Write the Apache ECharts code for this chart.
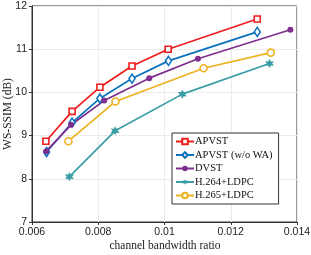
<!DOCTYPE html>
<html><head><meta charset="utf-8">
<script src="https://cdn.jsdelivr.net/npm/echarts@6/dist/echarts.min.js"></script>
<style>html,body{margin:0;padding:0;background:#fff}#c{width:311px;height:255px}</style>
</head><body><div id="c"></div>
<script>
const seriesNames = ['APVST', 'APVST (w/o WA)', 'DVST', 'H.264+LDPC', 'H.265+LDPC'];
const apvstX = [0.00642, 0.00721, 0.00805, 0.00902, 0.01011, 0.0128];
const apvstY = [8.87, 9.56, 10.12, 10.61, 11.0, 11.70];
const woWaX = [0.00644, 0.00721, 0.00805, 0.00902, 0.01012, 0.0128];
const woWaY = [8.62, 9.30, 9.86, 10.32, 10.73, 11.40];
const dvstX = [0.00643, 0.00718, 0.00818, 0.00954, 0.01101, 0.0138];
const dvstY = [8.64, 9.25, 9.81, 10.33, 10.78, 11.45];
const h264X = [0.00713, 0.00851, 0.01054, 0.01317];
const h264Y = [8.05, 9.11, 9.96, 10.67];
const h265X = [0.0071, 0.00852, 0.01118, 0.01321];
const h265Y = [8.87, 9.79, 10.56, 10.92];
const xTicks = [0.006, 0.008, 0.01, 0.012, 0.014];
const yTicks = [7, 8, 9, 10, 11, 12];
const xName = 'channel bandwidth ratio';
const yName = 'WS-SSIM (dB)';

const pair = (xs, ys) => xs.map((x, i) => [x, ys[i]]);
const star = 'path://M0,-10 L2.6,-4.5 L8.7,-5 L5.2,0 L8.7,5 L2.6,4.5 L0,10 L-2.6,4.5 L-8.7,5 L-5.2,0 L-8.7,-5 L-2.6,-4.5 Z';
const defs = [
  {name: seriesNames[0], data: pair(apvstX, apvstY), color: '#ee1c1c', symbol: 'rect', size: 6, hollow: true},
  {name: seriesNames[1], data: pair(woWaX, woWaY), color: '#0a72bd', symbol: 'diamond', size: [6, 9], hollow: true},
  {name: seriesNames[2], data: pair(dvstX, dvstY), color: '#7e2f8e', symbol: 'circle', size: 6, hollow: false},
  {name: seriesNames[3], data: pair(h264X, h264Y), color: '#3a9da6', symbol: star, size: 9, hollow: false},
  {name: seriesNames[4], data: pair(h265X, h265Y), color: '#edb120', symbol: 'circle', size: 7, hollow: true}
];
const chart = echarts.init(document.getElementById('c'), null, {renderer: 'canvas'});
const serif = '"Liberation Serif", "Times New Roman", serif';
const sans = '"Liberation Sans", Arial, sans-serif';
chart.setOption({
  animation: false,
  grid: {left: 32, right: 14, top: 6, bottom: 33, show: true, borderColor: '#333', borderWidth: 1,
    containLabel: false, outerBoundsMode: 'none'},
  graphic: [
    {type: 'text', x: 165, y: 240,
     style: {text: xName, font: '11.5px ' + serif, fill: '#222', align: 'center', verticalAlign: 'top'}, silent: true},
    {type: 'text', x: 2, y: 114, rotation: Math.PI / 2,
     style: {text: yName, font: '11.5px ' + serif, fill: '#222', align: 'center', verticalAlign: 'top'}, silent: true}
  ],
  xAxis: {
    type: 'value', min: 0.006, max: 0.014, interval: 0.002,
    axisLine: {lineStyle: {color: '#333', width: 1}},
    axisTick: {show: true, length: 3, lineStyle: {color: '#333'}},
    axisLabel: {fontFamily: sans, fontSize: 10.5, color: '#222', margin: 5,
      formatter: v => String(parseFloat(v.toFixed(4)))},
    splitLine: {show: true, lineStyle: {color: '#ebebeb', width: 1}}
  },
  yAxis: {
    type: 'value', min: 7, max: 12, interval: 1,
    axisLine: {show: true, lineStyle: {color: '#333', width: 1}},
    axisTick: {show: true, length: 3, lineStyle: {color: '#333'}},
    axisLabel: {fontFamily: sans, fontSize: 10.5, color: '#222', margin: 5},
    splitLine: {show: true, lineStyle: {color: '#ebebeb', width: 1}}
  },
  legend: {
    show: true, orient: 'vertical', left: 172, top: 133,
    backgroundColor: '#fff', borderColor: '#333', borderWidth: 1,
    padding: [3, 6, 3, 3], itemGap: 2.5, itemWidth: 18, itemHeight: 7,
    textStyle: {fontFamily: serif, fontSize: 10.5, lineHeight: 10, color: '#111', padding: [0, 0, 0, -4]},
    data: seriesNames
  },
  series: defs.map(d => ({
    name: d.name, type: 'line', data: d.data,
    symbol: d.symbol, symbolSize: d.size, showSymbol: true,
    lineStyle: {color: d.color, width: 1.7},
    itemStyle: {color: d.hollow ? '#fff' : d.color, borderColor: d.color, borderWidth: d.hollow ? 1.6 : 0},
    color: d.color,
    z: 2
  }))
});
</script></body></html>
